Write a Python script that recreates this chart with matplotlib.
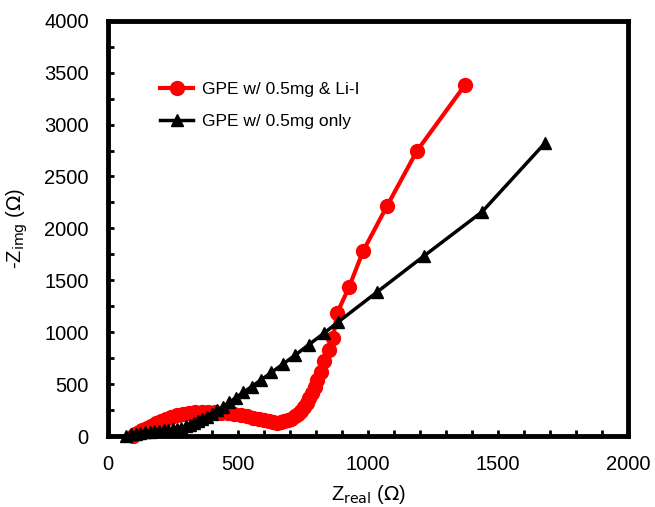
import matplotlib
matplotlib.use("Agg")
import matplotlib.pyplot as plt
from matplotlib.ticker import MultipleLocator

plt.rcParams['font.family'] = ['Liberation Sans', 'DejaVu Sans']

# GPE w/ 0.5mg & Li-I  (red circles)
red_x = [95, 105, 118, 132, 148, 165, 183, 202, 222, 243, 265, 288, 312, 336,
         360, 385, 410, 435, 460, 485, 510, 535, 558, 580, 600, 618, 635, 650,
         664, 678, 692, 705, 718, 730, 742, 753, 764, 774, 784, 794, 805, 818,
         832, 848, 865, 881, 927, 981, 1073, 1188, 1373]
red_y = [0, 15, 35, 55, 78, 100, 122, 145, 165, 185, 200, 213, 222, 228,
         231, 232, 230, 226, 220, 212, 202, 190, 177, 163, 150, 140, 133, 130,
         132, 140, 152, 168, 190, 215, 245, 280, 320, 365, 415, 470, 540, 620,
         720, 830, 945, 1186, 1436, 1783, 2217, 2747, 3383]

# GPE w/ 0.5mg only  (black triangles)
blk_x = [70, 88, 106, 124, 142, 160, 178, 196, 214, 232, 250, 266, 282, 298,
         314, 330, 346, 363, 381, 400, 420, 442, 466, 492, 520, 552, 588, 628,
         672, 720, 772, 830, 885, 1035, 1215, 1438, 1681]
blk_y = [5, 15, 24, 31, 37, 42, 46, 50, 54, 58, 64, 72, 82, 95,
         110, 126, 144, 164, 188, 216, 248, 284, 324, 370, 420, 476, 540, 612,
         692, 780, 880, 990, 1099, 1388, 1735, 2159, 2824]

labels = ["GPE w/ 0.5mg & Li-I", "GPE w/ 0.5mg only"]

fig = plt.figure(figsize=(6.55, 5.07), dpi=100)
ax = fig.add_axes([0.165, 0.140, 0.794, 0.819])

ax.plot(red_x, red_y, color='#ff0000', lw=3, marker='o', ms=10,
        label=labels[0], clip_on=False, zorder=3)
ax.plot(blk_x, blk_y, color='black', lw=2.5, marker='^', ms=9,
        label=labels[1], clip_on=False, zorder=4)

ax.set_xlim(0, 2000)
ax.set_ylim(0, 4000)
ax.xaxis.set_major_locator(MultipleLocator(500))
ax.xaxis.set_minor_locator(MultipleLocator(100))
ax.yaxis.set_major_locator(MultipleLocator(500))
ax.yaxis.set_minor_locator(MultipleLocator(250))
ax.tick_params(which='both', direction='in', width=2, length=4,
               labelsize=14.5)
ax.tick_params(axis='x', pad=14)
ax.tick_params(axis='y', pad=14)
for s in ax.spines.values():
    s.set_linewidth(3.5)

ax.set_xlabel(r'Z$_{\mathrm{real}}$ ($\Omega$)', fontsize=14.5, labelpad=6)
ax.set_ylabel(r'-Z$_{\mathrm{img}}$ ($\Omega$)', fontsize=14.5, labelpad=10)

ax.legend(loc='upper left', bbox_to_anchor=(0.07, 0.89), frameon=False,
          fontsize=12.5, handlelength=1.9, handletextpad=0.5,
          labelspacing=0.95)

fig.savefig("out.png", dpi=100)
